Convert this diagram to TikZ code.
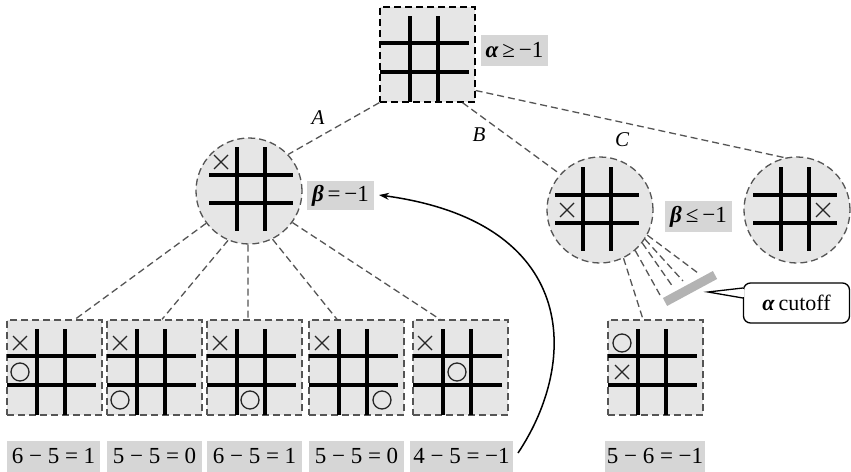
\documentclass[tikz,border=0pt]{standalone}
\usepackage{fontspec}
\setmainfont{Liberation Serif}
\usetikzlibrary{arrows.meta}
\definecolor{sqfill}{HTML}{E6E6E6}
\definecolor{labfill}{HTML}{D6D6D6}
\definecolor{barcol}{HTML}{B3B3B3}
\definecolor{dashcol}{HTML}{555555}
\newcommand{\al}{\textbf{\textit{α}}}
\newcommand{\be}{\textbf{\textit{β}}}
\begin{document}
\begin{tikzpicture}[x=1pt,y=-1pt,
  boardsq/.style={rectangle,minimum size=95pt,inner sep=0pt,fill=sqfill,draw=dashcol,line width=1.3pt,dash pattern=on 7pt off 4pt},
  boardci/.style={circle,minimum size=106pt,inner sep=0pt,fill=sqfill,draw=dashcol,line width=1.3pt,dash pattern=on 7pt off 4pt},
  gridln/.style={line width=3.2pt,black},
  markln/.style={line width=1.3pt,black!85},
  valbox/.style={fill=labfill,inner sep=0pt,minimum height=31pt,font=\fontsize{23}{26}\selectfont},
  edgeln/.style={line width=1.3pt,dashcol,dash pattern=on 7pt off 4pt},
  edgelab/.style={font=\fontsize{21}{24}\selectfont\itshape,inner sep=0pt}
]
\useasboundingbox (0,0) rectangle (851,471);

\newcommand{\sqgrid}[2]{%
  \draw[gridln] (#1,#2+36) -- (#1+89,#2+36);
  \draw[gridln] (#1,#2+65) -- (#1+89,#2+65);
  \draw[gridln] (#1+30,#2+9) -- (#1+30,#2+95);
  \draw[gridln] (#1+58,#2+9) -- (#1+58,#2+95);}
\newcommand{\cgrid}[2]{%
  \draw[gridln] (#1-42,#2-14) -- (#1+42,#2-14);
  \draw[gridln] (#1-42,#2+14) -- (#1+42,#2+14);
  \draw[gridln] (#1-14,#2-42) -- (#1-14,#2+42);
  \draw[gridln] (#1+14,#2-42) -- (#1+14,#2+42);}
\newcommand{\xmark}[2]{\draw[markln] (#1-7,#2-7) -- (#1+7,#2+7) (#1-7,#2+7) -- (#1+7,#2-7);}
\newcommand{\omark}[2]{\draw[markln] (#1,#2) circle[radius=9pt];}

% nodes
\node[boardsq,draw=black] (top) at (427.5,54.5) {};
\node[boardci] (mid) at (249,191) {};
\node[boardci] (cc) at (600,210) {};
\node[boardci] (rc) at (797,210) {};
\node[boardsq] (s1) at (54.5,367.5) {};
\node[boardsq] (s2) at (154.5,367.5) {};
\node[boardsq] (s3) at (254.5,367.5) {};
\node[boardsq] (s4) at (356.5,367.5) {};
\node[boardsq] (s5) at (460.5,367.5) {};
\node[boardsq] (s6) at (655.5,367.5) {};

% grids and marks
\sqgrid{380}{7}
\cgrid{251}{189}
\xmark{221}{162}
\cgrid{597}{209}
\xmark{567}{210}
\cgrid{795}{209}
\xmark{823}{210}
\sqgrid{7}{320}   \xmark{20}{343}  \omark{20}{372}
\sqgrid{107}{320} \xmark{120}{343} \omark{120}{400}
\sqgrid{207}{320} \xmark{220}{343} \omark{250}{400}
\sqgrid{309}{320} \xmark{322}{343} \omark{382}{400}
\sqgrid{413}{320} \xmark{425}{343} \omark{457}{372}
\sqgrid{608}{320} \omark{622}{343} \xmark{622}{372}

% value labels
\node[valbox,minimum width=67pt] (la) at (514.5,50) {\al\,≥\,−1};
\node[valbox,minimum width=67pt,minimum height=29pt] (lb) at (340.5,195.5) {\be\,=\,−1};
\node[valbox,minimum width=67pt] (lc) at (698.5,216.5) {\be\,≤\,−1};
\node[valbox,minimum width=93pt] (v1) at (53.5,456) {6 − 5 = 1};
\node[valbox,minimum width=95pt] (v2) at (154.5,456) {5 − 5 = 0};
\node[valbox,minimum width=95pt] (v3) at (254.5,456) {6 − 5 = 1};
\node[valbox,minimum width=95pt] (v4) at (356.5,456) {5 − 5 = 0};
\node[valbox,minimum width=103pt] (v5) at (461.5,456) {4 − 5 = −1};
\node[valbox,minimum width=100pt] (v6) at (655,456) {5 − 6 = −1};

% edges from root
\draw[edgeln] (top.south west) -- (mid.43);
\draw[edgeln] ([xshift=35pt]top.south) -- (cc.138);
\draw[edgeln] ([yshift=-36pt]top.east) -- (rc.103);
\node[edgelab] (ea) at (318,118) {A};
\node[edgelab] (eb) at (479,135) {B};
\node[edgelab] (ec) at (622,140) {C};

% edges to leaves
\draw[edgeln] (mid.217) -- ([xshift=20.5pt]s1.north);
\draw[edgeln] (mid.247) -- ([xshift=7.5pt]s2.north);
\draw[edgeln] (mid.269) -- ([xshift=-6.5pt]s3.north);
\draw[edgeln] (mid.296) -- ([xshift=-19.5pt]s4.north);
\draw[edgeln] (mid.324) -- ([xshift=-20.5pt]s5.north);
\draw[edgeln] (cc.296) -- ([xshift=-12.5pt]s6.north);

% pruned fan and cutoff bar
\coordinate (f1) at (660,295);
\coordinate (f2) at (673,287);
\coordinate (f3) at (683,281);
\coordinate (f4) at (698,273);
\draw[edgeln] (cc.311) -- (f1);
\draw[edgeln] (cc.322) -- (f2);
\draw[edgeln] (cc.327) -- (f3);
\draw[edgeln] (cc.332) -- (f4);
\coordinate (bar1) at (665,302);
\coordinate (bar2) at (715,275);
\draw[barcol,line width=9pt] (bar1) -- (bar2);

% callout
\node[draw,rounded corners=7pt,line width=1.3pt,minimum width=106pt,minimum height=40pt,inner sep=0pt,font=\fontsize{22}{25}\selectfont] (cut) at (796.5,303) {\al\,cutoff};
\coordinate (tip) at (708,292);
\fill[white] ([yshift=15pt]cut.west) -- (tip) -- ([yshift=5pt]cut.west) -- cycle;
\draw[line width=1.3pt] ([yshift=15pt]cut.west) -- (tip) -- ([yshift=5pt]cut.west);
\draw[white,line width=1.5pt] ([yshift=14pt]cut.west) -- ([yshift=6pt]cut.west);

% backed-up value arrow
\coordinate (astart) at (518,453);
\coordinate (aend) at (379,195);
\draw[line width=1.5pt,-{Stealth[length=10pt,width=7pt]}] (astart) .. controls (580,360) and (578,222) .. (aend);
\end{tikzpicture}
\end{document}
